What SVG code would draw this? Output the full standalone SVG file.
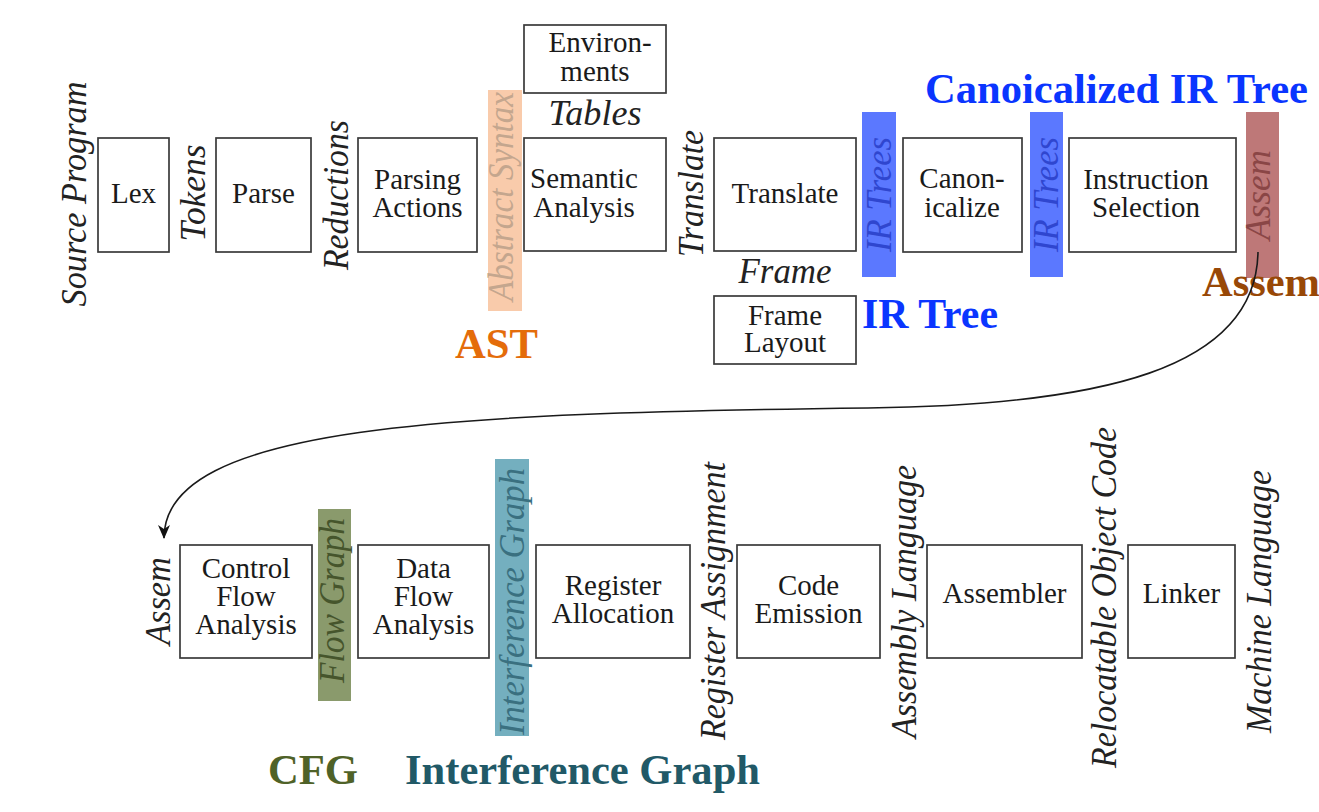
<svg xmlns="http://www.w3.org/2000/svg" width="1319" height="812" viewBox="0 0 1319 812">
<style>
.box{fill:#fff;stroke:#3a3a3a;stroke-width:1.7}
.bt{font-family:"Liberation Serif","Times New Roman",serif;font-size:29px;fill:#1a1a1a;text-anchor:middle}
.it{font-family:"Liberation Serif","Times New Roman",serif;font-size:35px;font-style:italic;fill:#222;text-anchor:middle}
.big{font-family:"Liberation Serif","Times New Roman",serif;font-size:42px;font-weight:bold}
.conn{fill:none;stroke:#1a1a1a;stroke-width:1.6}
</style>
<defs>
<marker id="ah" markerUnits="userSpaceOnUse" markerWidth="14" markerHeight="12" viewBox="0 0 14 12" refX="13" refY="6" orient="auto">
<path d="M0,0 L14,6 L0,12 L4,6 Z" fill="#111"/>
</marker>
</defs>
<rect width="1319" height="812" fill="#fff"/>

<!-- bands -->
<g id="bands">
<rect x="488" y="90" width="34" height="221" fill="#f9cbab"/>
<rect x="862" y="112" width="34" height="165" fill="#5b78ff"/>
<rect x="1030" y="112" width="33" height="165" fill="#5b78ff"/>
<rect x="1246" y="112" width="33" height="166" fill="#be7878"/>
<rect x="318" y="509" width="33" height="192" fill="#8a9a6c"/>
<rect x="495" y="459" width="34" height="277" fill="#74afbf"/>
</g>

<!-- top row nodes -->
<g id="lex"><rect class="box" x="98" y="138" width="71" height="114"/><text class="bt" x="133.5" y="203">Lex</text></g>
<g id="parse"><rect class="box" x="216" y="138" width="95" height="114"/><text class="bt" x="263.5" y="203">Parse</text></g>
<g id="parsing-actions"><rect class="box" x="358" y="138" width="119" height="114"/><text class="bt" x="417.5" y="189">Parsing</text><text class="bt" x="417.5" y="217">Actions</text></g>
<g id="environments"><rect class="box" x="524" y="25" width="142" height="68"/><text class="bt" x="600" y="52">Environ-</text><text class="bt" x="595" y="81">ments</text></g>
<g id="semantic-analysis"><rect class="box" x="524" y="138" width="142" height="113"/><text class="bt" x="584" y="188">Semantic</text><text class="bt" x="584" y="217">Analysis</text></g>
<g id="translate"><rect class="box" x="714" y="138" width="142" height="113"/><text class="bt" x="785" y="203">Translate</text></g>
<g id="frame-layout"><rect class="box" x="714" y="296" width="142" height="68"/><text class="bt" x="785" y="325">Frame</text><text class="bt" x="785" y="352">Layout</text></g>
<g id="canonicalize"><rect class="box" x="903" y="138" width="119" height="114"/><text class="bt" x="962" y="188">Canon-</text><text class="bt" x="962" y="217">icalize</text></g>
<g id="instruction-selection"><rect class="box" x="1069" y="138" width="167" height="114"/><text class="bt" x="1146" y="189">Instruction</text><text class="bt" x="1146" y="217">Selection</text></g>

<!-- bottom row nodes -->
<g id="control-flow-analysis"><rect class="box" x="180" y="545" width="132" height="113"/><text class="bt" x="246" y="578">Control</text><text class="bt" x="246" y="606">Flow</text><text class="bt" x="246" y="634">Analysis</text></g>
<g id="data-flow-analysis"><rect class="box" x="358" y="545" width="131" height="113"/><text class="bt" x="423.5" y="578">Data</text><text class="bt" x="423.5" y="606">Flow</text><text class="bt" x="423.5" y="634">Analysis</text></g>
<g id="register-allocation"><rect class="box" x="536" y="545" width="154" height="113"/><text class="bt" x="613" y="595">Register</text><text class="bt" x="613" y="623">Allocation</text></g>
<g id="code-emission"><rect class="box" x="737" y="545" width="143" height="113"/><text class="bt" x="808.5" y="595">Code</text><text class="bt" x="808.5" y="623">Emission</text></g>
<g id="assembler"><rect class="box" x="927" y="545" width="155" height="113"/><text class="bt" x="1004.5" y="603">Assembler</text></g>
<g id="linker"><rect class="box" x="1128" y="545" width="107" height="113"/><text class="bt" x="1181.5" y="603">Linker</text></g>

<!-- edge labels -->
<g id="labels">
<text class="it" transform="translate(86,194) rotate(-90)" textLength="225" lengthAdjust="spacingAndGlyphs">Source Program</text>
<text class="it" transform="translate(205,193) rotate(-90)" textLength="97" lengthAdjust="spacingAndGlyphs">Tokens</text>
<text class="it" transform="translate(348,195) rotate(-90)" textLength="150" lengthAdjust="spacingAndGlyphs">Reductions</text>
<text class="it" transform="translate(513,196.5) rotate(-90)" textLength="209" lengthAdjust="spacingAndGlyphs" style="fill:#c4a68e">Abstract Syntax</text>
<text class="it" transform="translate(703,193.5) rotate(-90)" textLength="127" lengthAdjust="spacingAndGlyphs">Translate</text>
<text class="it" transform="translate(891,194.5) rotate(-90)" textLength="115" lengthAdjust="spacingAndGlyphs" style="fill:#2f46cf">IR Trees</text>
<text class="it" transform="translate(1058,194.5) rotate(-90)" textLength="115" lengthAdjust="spacingAndGlyphs" style="fill:#2f46cf">IR Trees</text>
<text class="it" transform="translate(1270,195) rotate(-90)" textLength="90" lengthAdjust="spacingAndGlyphs" style="fill:#8a4646">Assem</text>
<text class="it" x="595" y="125" textLength="93" lengthAdjust="spacingAndGlyphs">Tables</text>
<text class="it" x="785" y="283" textLength="93" lengthAdjust="spacingAndGlyphs">Frame</text>

<text class="it" transform="translate(170,601) rotate(-90)" textLength="88" lengthAdjust="spacingAndGlyphs">Assem</text>
<text class="it" transform="translate(344,600.5) rotate(-90)" textLength="165" lengthAdjust="spacingAndGlyphs" style="fill:#46552c">Flow Graph</text>
<text class="it" transform="translate(524,601.5) rotate(-90)" textLength="267" lengthAdjust="spacingAndGlyphs" style="fill:#3a7080">Interference Graph</text>
<text class="it" transform="translate(725,601) rotate(-90)" textLength="278" lengthAdjust="spacingAndGlyphs">Register Assignment</text>
<text class="it" transform="translate(916,601.5) rotate(-90)" textLength="273" lengthAdjust="spacingAndGlyphs">Assembly Language</text>
<text class="it" transform="translate(1116,597.5) rotate(-90)" textLength="341" lengthAdjust="spacingAndGlyphs">Relocatable Object Code</text>
<text class="it" transform="translate(1271,601.5) rotate(-90)" textLength="263" lengthAdjust="spacingAndGlyphs">Machine Language</text>
</g>

<!-- annotations -->
<g id="annotations">
<text class="big" x="455" y="358" textLength="83" lengthAdjust="spacingAndGlyphs" fill="#e46c0a">AST</text>
<text class="big" x="862" y="328" textLength="136" lengthAdjust="spacingAndGlyphs" fill="#0a35ff">IR Tree</text>
<text class="big" x="925" y="103" textLength="383" lengthAdjust="spacingAndGlyphs" fill="#0a35ff">Canoicalized IR Tree</text>
<text class="big" x="1202" y="296" textLength="118" lengthAdjust="spacingAndGlyphs" fill="#984807">Assem</text>
<text class="big" x="268" y="784" textLength="90" lengthAdjust="spacingAndGlyphs" fill="#4f6228">CFG</text>
<text class="big" x="405" y="784" textLength="355" lengthAdjust="spacingAndGlyphs" fill="#215967">Interference Graph</text>
</g>

<!-- connectors -->
<g id="connectors">
<path class="conn" d="M1258,252 C1256,370 1100,405 868,408 C450,413 164,425 164,538" marker-end="url(#ah)"/>
</g>
</svg>
